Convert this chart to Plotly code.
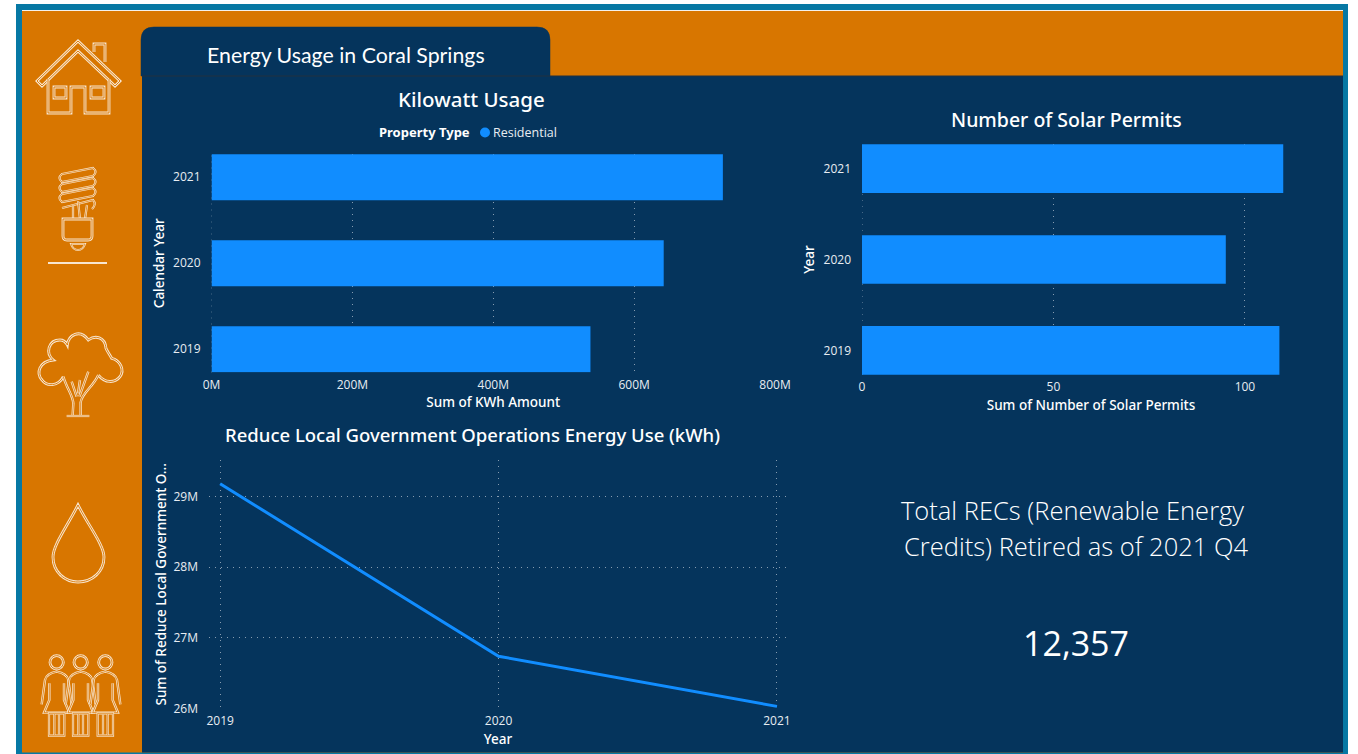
import re
import plotly.graph_objects as go

W, H = 1358, 754

# ---- data ----
kwh_years = ["2019", "2020", "2021"]
kwh_values = [538e6, 642e6, 726e6]
kwh_ticks = [0, 200e6, 400e6, 600e6, 800e6]
kwh_tick_labels = ["0M", "200M", "400M", "600M", "800M"]

permit_years = ["2019", "2020", "2021"]
permit_values = [109, 95, 110]
permit_ticks = [0, 50, 100]

gov_years = [2019, 2020, 2021]
gov_values = [29.18e6, 26.74e6, 26.03e6]
gov_ticks = [26e6, 27e6, 28e6, 29e6]
gov_tick_labels = ["26M", "27M", "28M", "29M"]

kpi_line_1 = "Total RECs (Renewable Energy"
kpi_line_2 = "Credits) Retired as of 2021 Q4"
kpi_value = "12,357"

# ---- style ----
ORANGE = "#D87600"
NAVY = "#05345C"
TEAL = "#0678A4"
BLUE = "#118DFF"
CREAM = "#F8E6D0"
GRID = "rgba(205,212,222,0.65)"
DOT = "1px,5px"
TITLE_FONT = "Noto Sans"
TICK_FONT = "Open Sans"


def px(x):
    return x / W


def py(y):
    return 1 - y / H


def dom_x(a, b):
    return [px(a), px(b)]


def dom_y(top, bottom):
    return [py(bottom), py(top)]


PAIR = r"(-?[\d.]+),(-?[\d.]+)"


def conv(path):
    # path written in page pixels -> paper fractions
    return re.sub(PAIR, lambda m: f"{float(m.group(1))/W:.5f},{1-float(m.group(2))/H:.5f}", path)


def zoomed(path, ox, oy):
    # path written in 3x crop coordinates -> page pixels
    return re.sub(PAIR, lambda m: f"{ox+float(m.group(1))/3:.2f},{oy+float(m.group(2))/3:.2f}", path)


shapes = []


def rect(x0, y0, x1, y1, color):
    shapes.append(dict(type="rect", xref="paper", yref="paper", x0=px(x0), x1=px(x1),
                       y0=py(y1), y1=py(y0), fillcolor=color, line_width=0, layer="below"))


def stroke(path, color, width, fill=None):
    d = dict(type="path", xref="paper", yref="paper", path=conv(path),
             line=dict(color=color, width=width), layer="below")
    if fill:
        d["fillcolor"] = fill
    shapes.append(d)


def icon(path, outer=2.8, inner=0.9):
    stroke(path, CREAM, outer)
    stroke(path, ORANGE, inner)


def circle(cx, cy, r):
    k = 0.5523 * r
    return (f"M{cx-r},{cy} C{cx-r},{cy-k} {cx-k},{cy-r} {cx},{cy-r} "
            f"C{cx+k},{cy-r} {cx+r},{cy-k} {cx+r},{cy} "
            f"C{cx+r},{cy+k} {cx+k},{cy+r} {cx},{cy+r} "
            f"C{cx-k},{cy+r} {cx-r},{cy+k} {cx-r},{cy} Z")


# page furniture
rect(16, 4, 1348, 754, TEAL)
rect(22, 10, 1343, 752.5, ORANGE)
rect(22, 10, 1343, 11, "#F4F1EC")
rect(142, 76, 1343, 752.5, NAVY)
stroke("M141,76 L141,40 Q141,27 154,27 L537,27 Q550,27 550,40 L550,76 Z", NAVY, 0.5, NAVY)
stroke("M142,76 L1343,76", "#23303F", 1)

# house
icon("M37,81 L78,41 L120,81 L115,86 L78,51 L42,86 Z")
icon("M94,52 L94,44 L105,44 L105,62")
icon("M48,79 L48,113 L71,113 L71,87 L85,87 L85,113 L109,113 L109,79")
icon("M54,87 L66,87 L66,98 L54,98 Z")
icon("M91,87 L104,87 L104,98 L91,98 Z")

# bulb
for y0, y1 in ((178, 172), (188, 182), (198, 192)):
    icon(f"M62,{y0-4} L93,{y1-4} Q98,{y1} 93,{y1+4} L62,{y0+4} Q57,{y0} 62,{y0-4} Z", 2.2, 0.7)
icon("M62,208 L93,200 Q97,204 92,209", 2.2, 0.7)
icon("M73,205 L73,219 M87,205 L85,219 M78,201 L80,219", 2.2, 0.7)
icon("M63,219 L92,219 L92,236 Q92,240 88,240 L67,240 Q63,240 63,236 Z")
icon("M71,244 L85,244 Q83,250 78,250 Q73,250 71,244 Z", 2.0, 0.6)
stroke("M48,263 L107,263", CREAM, 2)

# tree (drawn in the 3x crop at 30,325)
icon(zoomed("M100,155 C85,185 50,185 36,165 C18,145 26,110 70,105 C45,85 55,45 90,45 "
            "C100,45 108,52 112,60 C115,30 150,10 175,45 C195,30 225,35 228,70 "
            "C232,80 240,90 245,100 C270,105 285,135 270,155 C255,175 225,175 205,150", 30, 325))
icon(zoomed("M128,270 L130,235 C128,210 110,190 100,155 M152,270 L152,232 C155,205 190,185 205,150 "
            "M125,170 L140,215 M175,140 L148,215 M150,165 L144,205", 30, 325), 2.4, 0.8)
icon(zoomed("M110,273 L178,273", 30, 325), 2.2, 0.7)

# drop
icon("M78,505 C68,525 53,545 53,557 C53,572 65,582 78,582 C92,582 104,572 104,557 C104,545 88,525 78,505 Z")

# people (drawn in the 3x crop at 30,645)
for c in (80, 152, 226):
    icon(zoomed(circle(c, 52, 20), 30, 645))
    icon(zoomed(f"M{c-45},178 L{c-35},105 Q{c-30},85 {c},80 Q{c+30},85 {c+35},105 L{c+45},178", 30, 645), 2.4, 0.8)
    icon(zoomed(f"M{c-22},115 L{c-22},165 L{c-38},203 L{c+38},203 L{c+22},165 L{c+22},115", 30, 645), 2.4, 0.8)
    icon(zoomed(f"M{c-23},205 L{c-23},272 L{c+23},272 L{c+23},205 Z M{c-7},207 L{c-7},270 M{c+7},207 L{c+7},270", 30, 645), 2.2, 0.7)

# dotted zero gridlines (Plotly leaves them out under bars)
for xr, yr in (("x", "y domain"), ("x2", "y2 domain")):
    shapes.append(dict(type="line", xref=xr, yref=yr, x0=0, x1=0, y0=0, y1=1,
                       line=dict(color=GRID, width=1, dash=DOT), layer="below"))

# ---- traces ----
fig = go.Figure()
fig.add_trace(go.Bar(y=kwh_years, x=kwh_values, orientation="h", marker=dict(color=BLUE, line_width=0),
                     name="Residential", width=0.535, xaxis="x", yaxis="y"))
fig.add_trace(go.Bar(y=permit_years, x=permit_values, orientation="h", marker=dict(color=BLUE, line_width=0),
                     name="Number of Solar Permits", width=0.535, xaxis="x2", yaxis="y2"))
fig.add_trace(go.Scatter(x=gov_years, y=gov_values, mode="lines", line=dict(color=BLUE, width=3),
                         name="Energy Use", xaxis="x3", yaxis="y3"))

tick_f = dict(family=TICK_FONT, size=12, color="#E8EDF2")
title_f = dict(family=TITLE_FONT, size=13.5, color="#FFFFFF", weight=500)
grid = dict(showgrid=True, gridcolor=GRID, griddash=DOT, gridwidth=1, zeroline=False, showline=False, ticks="")

annots = []


def text(x, y, s, size, family=TITLE_FONT, color="#FFFFFF", weight=500):
    annots.append(dict(xref="paper", yref="paper", x=px(x), y=py(y), text=s, showarrow=False,
                       xanchor="center", yanchor="middle", align="center",
                       font=dict(family=family, size=size, color=color, weight=weight)))


text(345.5, 55, "Energy Usage in Coral Springs", 21.3, "Lato", weight=400)
text(471, 99, "Kilowatt Usage", 20.5)
text(424.5, 132, "Property Type", 13, weight=700)
text(524.5, 132.5, "Residential", 12.5, TICK_FONT, "#E8EDF2", 400)
text(1066, 119, "Number of Solar Permits", 19.5)
text(472, 434.5, "Reduce Local Government Operations Energy Use (kWh)", 18.5)
text(1072.5, 509.5, kpi_line_1, 25.5, "Open Sans", weight=300)
text(1075.5, 545.5, kpi_line_2, 25.5, "Open Sans", weight=300)
text(1076, 643, kpi_value, 34, "Open Sans", weight=400)

shapes.append(dict(type="circle", xref="paper", yref="paper", x0=px(480), x1=px(490), y0=py(137.5), y1=py(127.5),
                   fillcolor=BLUE, line_width=0, layer="below"))

fig.update_layout(
    width=W, height=H, margin=dict(l=0, r=0, t=0, b=0, autoexpand=False),
    paper_bgcolor="#FFFFFF", plot_bgcolor="rgba(0,0,0,0)", showlegend=False,
    shapes=shapes, annotations=annots,
    xaxis=dict(domain=dom_x(211.5, 775), range=[0, 800e6], tickvals=kwh_ticks, ticktext=kwh_tick_labels,
               tickfont=tick_f, anchor="y", ticklabelstandoff=3,
               title=dict(text="Sum of KWh Amount", font=title_f, standoff=6), **grid),
    yaxis=dict(domain=dom_y(154, 372.5), type="category", categoryorder="array", categoryarray=kwh_years,
               range=[-0.27, 2.27], tickfont=tick_f, anchor="x", showgrid=False, zeroline=False, ticks="",
               ticklabelstandoff=10,
               title=dict(text="Calendar Year", font=title_f, standoff=5)),
    xaxis2=dict(domain=dom_x(862, 1320), range=[0, 119.6], tickvals=permit_ticks, tickfont=tick_f, anchor="y2",
                ticklabelstandoff=3,
                title=dict(text="Sum of Number of Solar Permits", font=title_f, standoff=6), **grid),
    yaxis2=dict(domain=dom_y(144, 375), type="category", categoryorder="array", categoryarray=permit_years,
                range=[-0.27, 2.27], tickfont=tick_f, anchor="x2", showgrid=False, zeroline=False, ticks="",
                ticklabelstandoff=10,
                title=dict(text="Year", font=title_f, standoff=5)),
    xaxis3=dict(domain=dom_x(209, 787), range=[2018.96, 2021.036], tickvals=gov_years, tickformat="d",
                tickfont=tick_f, anchor="y3", ticklabelstandoff=3,
                title=dict(text="Year", font=title_f, standoff=7), **grid),
    yaxis3=dict(domain=dom_y(460, 708.5), range=[26e6, 29.516e6], tickvals=gov_ticks, ticktext=gov_tick_labels,
                tickfont=tick_f, anchor="x3", ticklabelstandoff=10,
                title=dict(text="Sum of Reduce Local Government O...", font=title_f, standoff=3), **grid),
)

fig.write_html("out.html", post_script="document.body.style.margin='0';document.body.style.overflow='hidden';",
               config=dict(displayModeBar=False))
